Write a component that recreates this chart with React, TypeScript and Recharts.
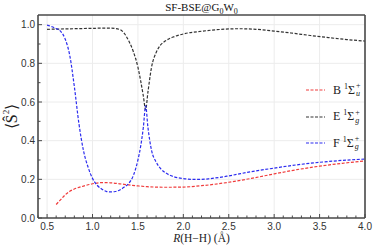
import { LineChart, Line, XAxis, YAxis, ReferenceLine, Legend, Label } from "recharts";

// B ¹Σu+ (red)
const bR = [0.6, 0.65, 0.7, 0.75, 0.8, 0.9, 1.0, 1.1, 1.2, 1.3, 1.4, 1.5, 1.6, 1.8, 2.0, 2.2, 2.5, 2.75, 3.0, 3.25, 3.5, 3.75, 4.0];
const bS = [0.07, 0.095, 0.12, 0.138, 0.15, 0.165, 0.177, 0.183, 0.182, 0.177, 0.171, 0.166, 0.162, 0.159, 0.16, 0.167, 0.185, 0.205, 0.228, 0.25, 0.268, 0.283, 0.295];

// E ¹Σg+ (black)
const eR = [0.5, 0.6, 0.7, 0.8, 0.9, 1.0, 1.1, 1.2, 1.3, 1.35, 1.4, 1.45, 1.5, 1.53, 1.56, 1.585, 1.61, 1.65, 1.7, 1.75, 1.8, 1.9, 2.0, 2.2, 2.4, 2.6, 2.8, 3.0, 3.2, 3.4, 3.6, 3.8, 4.0];
const eS = [0.976, 0.977, 0.978, 0.979, 0.98, 0.981, 0.982, 0.982, 0.975, 0.955, 0.915, 0.86, 0.78, 0.71, 0.63, 0.56, 0.65, 0.78, 0.855, 0.895, 0.915, 0.938, 0.952, 0.966, 0.975, 0.979, 0.976, 0.967, 0.956, 0.944, 0.933, 0.923, 0.915];

// F ¹Σg+ (blue)
const fR = [0.5, 0.55, 0.6, 0.65, 0.7, 0.75, 0.8, 0.85, 0.9, 0.95, 1.0, 1.05, 1.1, 1.15, 1.2, 1.25, 1.3, 1.35, 1.4, 1.45, 1.5, 1.53, 1.56, 1.585, 1.61, 1.65, 1.7, 1.75, 1.8, 1.9, 2.0, 2.1, 2.2, 2.3, 2.5, 2.75, 3.0, 3.25, 3.5, 3.75, 4.0];
const fS = [0.998, 0.99, 0.98, 0.965, 0.925, 0.84, 0.68, 0.49, 0.35, 0.265, 0.205, 0.17, 0.15, 0.138, 0.135, 0.137, 0.145, 0.16, 0.18, 0.22, 0.3, 0.37, 0.47, 0.58, 0.47, 0.35, 0.29, 0.255, 0.235, 0.213, 0.204, 0.2, 0.2, 0.204, 0.218, 0.24, 0.258, 0.275, 0.288, 0.298, 0.305];

const xLabels = [0.5, 1.0, 1.5, 2.0, 2.5, 3.0, 3.5, 4.0];
const xMinor = [0.4, 0.5, 0.6, 0.7, 0.8, 0.9, 1.0, 1.1, 1.2, 1.3, 1.4, 1.5, 1.6, 1.7, 1.8, 1.9, 2.0, 2.1, 2.2, 2.3, 2.4, 2.5, 2.6, 2.7, 2.8, 2.9, 3.0, 3.1, 3.2, 3.3, 3.4, 3.5, 3.6, 3.7, 3.8, 3.9, 4.0];
const yLabels = [0.0, 0.2, 0.4, 0.6, 0.8, 1.0];
const yMinor = [0.0, 0.1, 0.2, 0.3, 0.4, 0.5, 0.6, 0.7, 0.8, 0.9, 1.0];

const stateNames = ["B", "E", "F"];
const parity = ["u", "g", "g"];
const colors = ["#f03c3c", "#333333", "#2b2bef"];

const AXIS = "#4a4a4a";
const GRID = "#ececec";
const SANS = "Liberation Sans, Arial, sans-serif";
const SERIF = "Liberation Serif, Times New Roman, serif";

const toPoints = (rs: number[], ss: number[]) => rs.map((r, i) => ({ r, s: ss[i] }));
const bData = toPoints(bR, bS);
const eData = toPoints(eR, eS);
const fData = toPoints(fR, fS);

const near = (list: number[], v: number) => list.some((t) => Math.abs(t - v) < 1e-6);

function BottomTick({ x, y, payload }: any) {
  const major = near(xLabels, payload.value);
  return (
    <g>
      <line x1={x} x2={x} y1={y} y2={y - (major ? 4 : 2.5)} stroke={AXIS} />
      {major && (
        <text x={x} y={y + 12} textAnchor="middle" fontSize={10} fontFamily={SANS} fill="#333">
          {payload.value.toFixed(1)}
        </text>
      )}
    </g>
  );
}

function TopTick({ x, y, payload }: any) {
  const major = near(xLabels, payload.value);
  return <line x1={x} x2={x} y1={y} y2={y + (major ? 4 : 2.5)} stroke={AXIS} />;
}

function LeftTick({ x, y, payload }: any) {
  const major = near(yLabels, payload.value);
  return (
    <g>
      <line x1={x} x2={x + (major ? 4 : 2.5)} y1={y} y2={y} stroke={AXIS} />
      {major && (
        <text x={x - 3} y={y + 3.5} textAnchor="end" fontSize={10} fontFamily={SANS} fill="#333">
          {payload.value.toFixed(1)}
        </text>
      )}
    </g>
  );
}

function RightTick({ x, y, payload }: any) {
  const major = near(yLabels, payload.value);
  return <line x1={x} x2={x - (major ? 4 : 2.5)} y1={y} y2={y} stroke={AXIS} />;
}

function TitleLabel({ viewBox }: any) {
  return (
    <text x={viewBox.x + viewBox.width / 2} y={viewBox.y + viewBox.height - 4} textAnchor="middle" fontSize={11} fontFamily={SERIF} fill="#111">
      SF-BSE@G<tspan fontSize={8} dy={2.5}>0</tspan>
      <tspan dy={-2.5}>W</tspan>
      <tspan fontSize={8} dy={2.5}>0</tspan>
    </text>
  );
}

function XTitle({ viewBox }: any) {
  return (
    <text x={viewBox.x + viewBox.width / 2} y={viewBox.y + 24} textAnchor="middle" fontSize={11.5} fontFamily={SERIF} fill="#222">
      <tspan fontStyle="italic">R</tspan>(H−H) (Å)
    </text>
  );
}

function YTitle({ viewBox }: any) {
  const cx = viewBox.x + 11;
  const cy = viewBox.y + viewBox.height / 2;
  return (
    <text x={cx} y={cy} textAnchor="middle" dominantBaseline="central" fontSize={16} fontFamily={SERIF} fill="#222" transform={`rotate(-90 ${cx} ${cy})`}>
      ⟨Ŝ<tspan fontSize={9} dy={-5}>2</tspan>
      <tspan dy={5}>⟩</tspan>
    </text>
  );
}

function LegendBox({ payload }: any) {
  return (
    <div style={{ fontFamily: SERIF, fontSize: 12, color: "#222" }}>
      {(payload || []).map((p: any, i: number) => (
        <div key={i} style={{ display: "flex", alignItems: "center", height: 26.5 }}>
          <svg width={19} height={6} style={{ marginRight: 8 }}>
            <line x1={0} x2={19} y1={3} y2={3} stroke={p.color} strokeWidth={1.2} strokeDasharray="3 1.5" />
          </svg>
          <span>{stateNames[i]}&nbsp;</span>
          <span style={{ fontSize: 8, position: "relative", top: -4 }}>1</span>
          <span>Σ</span>
          <span style={{ display: "inline-flex", flexDirection: "column", fontSize: 8, lineHeight: "8px", marginLeft: 1 }}>
            <span>+</span>
            <span style={{ fontStyle: "italic" }}>{parity[i]}</span>
          </span>
        </div>
      ))}
    </div>
  );
}

export default function App() {
  const dash = "3 1.6";
  return (
    <div style={{ position: "absolute", left: 0, top: 0, background: "#fff" }}>
      <LineChart width={374} height={248} margin={{ top: 0, right: 8, bottom: 0, left: 0 }}>
        <XAxis
          type="number"
          dataKey="r"
          domain={[0.4, 4.0]}
          ticks={xMinor}
          interval={0}
          height={30}
          tickSize={0}
          tickMargin={0}
          tick={(p: any) => <BottomTick {...p} />}
          axisLine={{ stroke: AXIS, strokeWidth: 1.6 }}
          allowDataOverflow
        >
          <Label content={(p: any) => <XTitle {...p} />} />
        </XAxis>
        <XAxis
          xAxisId="top"
          orientation="top"
          type="number"
          dataKey="r"
          domain={[0.4, 4.0]}
          ticks={xMinor}
          interval={0}
          height={15}
          tickSize={0}
          tickMargin={0}
          tick={(p: any) => <TopTick {...p} />}
          axisLine={{ stroke: AXIS, strokeWidth: 1.6 }}
        >
          <Label content={(p: any) => <TitleLabel {...p} />} />
        </XAxis>
        <YAxis
          type="number"
          domain={[0, 1.05]}
          ticks={yMinor}
          interval={0}
          width={38}
          tickSize={0}
          tickMargin={0}
          tick={(p: any) => <LeftTick {...p} />}
          axisLine={{ stroke: AXIS, strokeWidth: 1.6 }}
          allowDataOverflow
        >
          <Label content={(p: any) => <YTitle {...p} />} />
        </YAxis>
        <YAxis
          yAxisId="right"
          orientation="right"
          type="number"
          domain={[0, 1.05]}
          ticks={yMinor}
          interval={0}
          width={1}
          tickSize={0}
          tickMargin={0}
          tick={(p: any) => <RightTick {...p} />}
          axisLine={{ stroke: AXIS, strokeWidth: 1.6 }}
        />
        {xLabels.map((v) => (
          <ReferenceLine key={"gx" + v} x={v} stroke={GRID} strokeWidth={1} />
        ))}
        {yLabels.map((v) => (
          <ReferenceLine key={"gy" + v} y={v} stroke={GRID} strokeWidth={1} />
        ))}
        <Line data={bData} dataKey="s" name="B" type="monotone" stroke={colors[0]} strokeWidth={1.2} strokeDasharray={dash} dot={false} isAnimationActive={false} />
        <Line data={eData} dataKey="s" name="E" type="monotone" stroke={colors[1]} strokeWidth={1.2} strokeDasharray={dash} dot={false} isAnimationActive={false} />
        <Line data={fData} dataKey="s" name="F" type="monotone" stroke={colors[2]} strokeWidth={1.2} strokeDasharray={dash} dot={false} isAnimationActive={false} />
        <Legend
          layout="vertical"
          align="center"
          verticalAlign="middle"
          content={(p: any) => <LegendBox {...p} />}
          wrapperStyle={{ position: "absolute", left: 306, top: 77, width: 66 }}
        />
      </LineChart>
    </div>
  );
}
